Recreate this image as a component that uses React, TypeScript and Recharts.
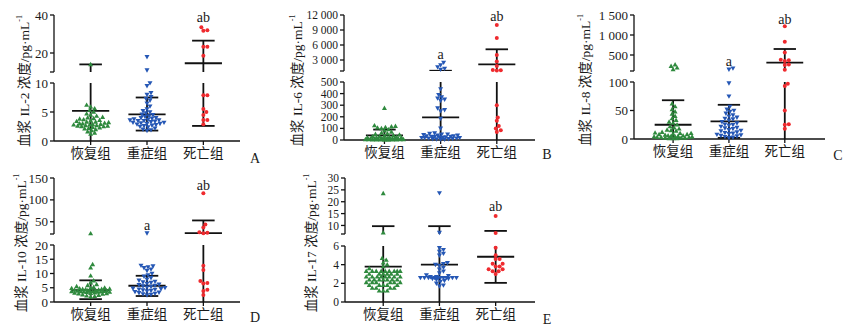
import { ScatterChart, Scatter, XAxis, YAxis, ReferenceLine } from 'recharts';

const groups = ['恢复组', '重症组', '死亡组'];

// IL-2
const il2Recover = [14, 6.2, 5.9, 5.6, 5.3, 5.0, 4.7, 4.5, 4.3, 4.1, 4.0, 3.9, 3.8, 3.7, 3.6, 3.5, 3.4, 3.3, 3.3, 3.2, 3.1, 3.0, 3.0, 2.9, 2.9, 2.8, 2.8, 2.7, 2.7, 2.6, 2.6, 2.5, 2.5, 2.4, 2.3, 2.2, 2.1, 2.0, 1.8, 1.6, 1.4, 1.2];
const il2Severe = [18, 11, 10, 9.5, 8.3, 8.0, 7.6, 7.3, 7.0, 6.5, 6.0, 5.5, 5.2, 5.0, 4.8, 4.6, 4.5, 4.3, 4.2, 4.0, 4.0, 3.9, 3.8, 3.7, 3.6, 3.6, 3.5, 3.5, 3.4, 3.3, 3.2, 3.2, 3.1, 3.0, 3.0, 2.9, 2.8, 2.7, 2.6, 2.5, 2.4, 2.2, 2.0, 1.9, 1.8];
const il2Death = [33.5, 32, 31.7, 23.3, 23.3, 18.6, 7.9, 7.9, 5.5, 5.0, 4.5, 3.6, 3.6, 2.9];
const il2Mean = [5.2, 4.6, 14.6];
const il2SdHigh = [14, 7.5, 26.5];
const il2SdLow = [0, 1.8, 2.6];

// IL-6
const il6Recover = [275, 125, 120, 115, 110, 105, 100, 90, 80, 70, 60, 55, 50, 45, 40, 35, 30, 30, 25, 25, 20, 20, 20, 15, 15, 15, 12, 12, 10, 10, 10, 8, 8, 6, 6, 5, 5, 4, 4, 3, 3, 2, 2, 2, 1, 1];
const il6Severe = [2500, 2000, 1600, 1300, 1100, 440, 390, 370, 360, 350, 340, 275, 260, 250, 185, 100, 60, 55, 50, 50, 45, 40, 40, 35, 35, 30, 30, 28, 25, 25, 22, 20, 20, 18, 15, 15, 12, 10, 10, 8, 6, 5];
const il6Death = [10000, 7400, 4000, 2700, 1800, 1000, 950, 900, 300, 195, 165, 120, 100, 85, 70];
const il6Mean = [40, 195, 2140];
const il6SdHigh = [90, 850, 5140];
const il6SdLow = [0, 0, 0];

// IL-8
const il8Recover = [260, 220, 180, 140, 62, 57, 52, 48, 44, 40, 36, 33, 30, 28, 25, 22, 20, 18, 16, 15, 14, 12, 11, 10, 10, 9, 8, 8, 7, 6, 6, 5, 5, 4, 4, 4, 3, 3, 3, 2, 2, 2, 1, 1, 1];
const il8Severe = [170, 140, 98, 75, 57, 52, 50, 48, 45, 42, 40, 38, 36, 35, 33, 30, 28, 26, 25, 24, 22, 20, 19, 18, 16, 15, 14, 12, 11, 10, 9, 8, 7, 6, 5, 4, 3, 2];
const il8Death = [1220, 830, 560, 380, 370, 350, 260, 250, 130, 97, 93, 50, 26, 25, 18];
const il8Mean = [25, 31, 310];
const il8SdHigh = [68, 60, 650];
const il8SdLow = [0, 2, 0];

// IL-10
const il10Recover = [23, 13.2, 12.0, 9.2, 7.5, 6.8, 6.2, 5.8, 5.5, 5.2, 5.0, 4.9, 4.8, 4.7, 4.6, 4.5, 4.5, 4.4, 4.3, 4.2, 4.1, 4.0, 4.0, 3.9, 3.9, 3.8, 3.8, 3.7, 3.7, 3.6, 3.6, 3.5, 3.5, 3.4, 3.3, 3.2, 3.1, 3.0, 2.9, 2.8, 2.6, 2.4, 2.2, 2.0, 1.8];
const il10Severe = [24, 12.8, 12.6, 12.3, 12.0, 11.5, 11.0, 10.0, 9.5, 9.0, 8.5, 8.0, 7.6, 7.2, 7.0, 6.8, 6.5, 6.2, 6.0, 5.8, 5.6, 5.4, 5.2, 5.0, 4.8, 4.6, 4.5, 4.4, 4.2, 4.0, 3.8, 3.6, 3.4, 3.2, 3.0, 2.8, 2.6, 2.4];
const il10Death = [115, 44, 37, 26, 25, 24, 12.7, 11.2, 7.4, 6.7, 6.5, 4.3, 3.9, 2.5];
const il10Mean = [4.2, 5.7, 24];
const il10SdHigh = [7.6, 9.2, 53];
const il10SdLow = [1.0, 2.1, 0];

// IL-17
const il17Recover = [23.5, 7.0, 4.7, 4.5, 4.2, 4.0, 3.8, 3.6, 3.3, 3.3, 3.3, 3.3, 3.3, 3.3, 3.3, 3.3, 3.3, 3.0, 3.0, 3.0, 3.0, 3.0, 3.0, 2.7, 2.7, 2.7, 2.7, 2.7, 2.7, 2.7, 2.7, 2.4, 2.4, 2.4, 2.4, 2.4, 2.4, 2.4, 2.1, 2.1, 2.1, 2.1, 2.1, 2.1, 1.8, 1.8, 1.8, 1.8, 1.8, 1.5, 1.5, 1.5, 1.5, 1.2, 1.2, 1.2];
const il17Severe = [23.7, 7.0, 5.8, 5.6, 5.4, 5.2, 5.0, 4.2, 4.1, 4.0, 3.9, 3.7, 3.5, 3.3, 3.1, 2.9, 2.8, 2.7, 2.7, 2.6, 2.6, 2.6, 2.6, 2.6, 2.6, 2.6, 2.6, 2.6, 2.6, 2.5, 2.5, 2.4, 2.3, 2.2, 2.0, 1.8, 1.7];
const il17Death = [14, 6.8, 5.8, 5.0, 4.6, 4.6, 4.1, 4.1, 3.8, 3.8, 3.5, 3.5, 3.3, 3.3, 3.0];
const il17Mean = [3.8, 4.0, 4.85];
const il17SdHigh = [9.7, 9.7, 7.7];
const il17SdLow = [0, 0, 2.05];

const colors = {
  recover: '#2f8a3e',
  severe: '#2557b5',
  death: '#ef2a2e',
  bar: '#111',
  text: '#1a1a1a',
};

const serif = "'Liberation Serif', 'Times New Roman', serif";
const cjk = "'Liberation Serif', 'Noto Sans CJK SC', serif";

type Box = { left: number; right: number; top: [number, number]; bottom: [number, number] };
type Note = { g: number; y: number; label: string };

interface Panel {
  name: string;
  letter: string;
  values: number[][];
  mean: number[];
  sdHigh: number[];
  sdLow: number[];
  topDomain: [number, number];
  topTicks: number[];
  botDomain: [number, number];
  botTicks: number[];
  xDomain: [number, number];
  notes: Note[];
  box: Box;
  titleX: number;
  letterPos: [number, number];
  tickFont: number;
}

const panels: Panel[] = [
  {
    name: 'IL-2', letter: 'A',
    values: [il2Recover, il2Severe, il2Death], mean: il2Mean, sdHigh: il2SdHigh, sdLow: il2SdLow,
    topDomain: [10, 40], topTicks: [10, 20, 40], botDomain: [0, 10], botTicks: [0, 5, 10],
    xDomain: [0.35, 3.65], notes: [{ g: 3, y: 38.9, label: 'ab' }],
    box: { left: 54, right: 240, top: [15, 72], bottom: [83, 141] }, titleX: 24, letterPos: [255, 158], tickFont: 13,
  },
  {
    name: 'IL-6', letter: 'B',
    values: [il6Recover, il6Severe, il6Death], mean: il6Mean, sdHigh: il6SdHigh, sdLow: il6SdLow,
    topDomain: [800, 12000], topTicks: [800, 3000, 6000, 9000, 12000], botDomain: [0, 500], botTicks: [0, 100, 200, 300, 400, 500],
    xDomain: [0.28, 3.68], notes: [{ g: 2, y: 4140, label: 'a' }, { g: 3, y: 11660, label: 'ab' }],
    box: { left: 344, right: 535, top: [15, 71], bottom: [82, 140] }, titleX: 297, letterPos: [547, 154], tickFont: 11.5,
  },
  {
    name: 'IL-8', letter: 'C',
    values: [il8Recover, il8Severe, il8Death], mean: il8Mean, sdHigh: il8SdHigh, sdLow: il8SdLow,
    topDomain: [100, 1500], topTicks: [100, 500, 1000, 1500], botDomain: [0, 100], botTicks: [0, 50, 100],
    xDomain: [0.3, 3.72], notes: [{ g: 2, y: 350, label: 'a' }, { g: 3, y: 1393, label: 'ab' }],
    box: { left: 634, right: 825, top: [15, 71], bottom: [82, 139] }, titleX: 585, letterPos: [838, 155], tickFont: 13,
  },
  {
    name: 'IL-10', letter: 'D',
    values: [il10Recover, il10Severe, il10Death], mean: il10Mean, sdHigh: il10SdHigh, sdLow: il10SdLow,
    topDomain: [22, 150], topTicks: [22, 50, 100, 150], botDomain: [0, 20], botTicks: [0, 5, 10, 15, 20],
    xDomain: [0.35, 3.65], notes: [{ g: 2, y: 40.3, label: 'a' }, { g: 3, y: 134, label: 'ab' }],
    box: { left: 54, right: 240, top: [178, 234], bottom: [245, 302] }, titleX: 21, letterPos: [255, 317], tickFont: 13,
  },
  {
    name: 'IL-17', letter: 'E',
    values: [il17Recover, il17Severe, il17Death], mean: il17Mean, sdHigh: il17SdHigh, sdLow: il17SdLow,
    topDomain: [6.4, 30], topTicks: [6.4, 10, 15, 20, 25, 30], botDomain: [0, 6], botTicks: [0, 2, 4, 6],
    xDomain: [0.32, 3.7], notes: [{ g: 3, y: 18.2, label: 'ab' }],
    box: { left: 345, right: 535, top: [178, 234], bottom: [246, 302] }, titleX: 311, letterPos: [547, 319], tickFont: 11.5,
  },
];

const YW = 46;
const MT = 8;
const MB = 2;
const MR = 10;
const XH = 28;
const DOT = 3.6;
const SPREAD = 19;

// simple beeswarm: spread points sideways (in pixels), packed within +-SPREAD px
function swarm(values: number[], g: number, dom: [number, number], plotH: number, pxPerX: number) {
  const k = plotH / (dom[1] - dom[0]);
  const pts = values.map((v) => ({ v, py: (v - dom[0]) * k })).sort((a, b) => a.py - b.py);
  const placed: { px: number; py: number }[] = [];
  const cands: number[] = [0];
  for (let o = 1; o <= SPREAD; o += 1) cands.push(o, -o);
  return pts.map((p) => {
    let off = 0;
    let bestGap = -1;
    for (const o of cands) {
      let gap = Infinity;
      for (const q of placed) {
        const d = Math.hypot(q.px - o, q.py - p.py);
        if (d < gap) gap = d;
      }
      if (gap >= DOT) {
        off = o;
        bestGap = gap;
        break;
      }
      if (gap > bestGap + 0.3) {
        bestGap = gap;
        off = o;
      }
    }
    placed.push({ px: off, py: p.py });
    return { x: g + off / pxPerX, y: p.v };
  });
}

function fmt(v: number) {
  if (v >= 1000) return `${Math.floor(v / 1000)} ${String(v % 1000).padStart(3, '0')}`;
  return String(v);
}

const TriUp = (p: any) => (
  <path d={`M${p.cx},${p.cy - 2.6}L${p.cx - 2.5},${p.cy + 1.8}L${p.cx + 2.5},${p.cy + 1.8}Z`} fill={colors.recover} />
);
const TriDown = (p: any) => (
  <path d={`M${p.cx},${p.cy + 2.6}L${p.cx - 2.5},${p.cy - 1.8}L${p.cx + 2.5},${p.cy - 1.8}Z`} fill={colors.severe} />
);
const Dot = (p: any) => <circle cx={p.cx} cy={p.cy} r={2} fill={colors.death} />;
const NoteText = (p: any) => (
  <text x={p.cx} y={p.cy} textAnchor="middle" dominantBaseline="central" fontSize={14} fontFamily={serif} fill={colors.text}>
    {p.payload.label}
  </text>
);

const shapes = [TriUp, TriDown, Dot];

function Segment({ p, part }: { p: Panel; part: 'top' | 'bottom' }) {
  const isTop = part === 'top';
  const [segTop, segBot] = isTop ? p.box.top : p.box.bottom;
  const dom = isTop ? p.topDomain : p.botDomain;
  const ticks = isTop ? p.topTicks : p.botTicks;
  const plotW = p.box.right - p.box.left;
  const plotH = segBot - segTop;
  const width = YW + plotW + MR;
  const height = MT + plotH + MB + (isTop ? 0 : XH);
  const pxPerX = plotW / (p.xDomain[1] - p.xDomain[0]);
  const inSeg = (v: number) => (isTop ? v > dom[0] : v <= dom[1]);
  const notes = isTop ? p.notes : [];

  const lines: { a: [number, number]; b: [number, number] }[] = [];
  [1, 2, 3].forEach((g, i) => {
    lines.push({ a: [g - 0.33, p.mean[i]], b: [g + 0.33, p.mean[i]] });
    lines.push({ a: [g, p.sdLow[i]], b: [g, p.sdHigh[i]] });
    lines.push({ a: [g - 0.2, p.sdHigh[i]], b: [g + 0.2, p.sdHigh[i]] });
    if (p.sdLow[i] > 0) lines.push({ a: [g - 0.2, p.sdLow[i]], b: [g + 0.2, p.sdLow[i]] });
  });

  return (
    <div style={{ position: 'absolute', left: p.box.left - YW, top: segTop - MT }}>
      <ScatterChart width={width} height={height} margin={{ top: MT, right: MR, bottom: MB, left: 0 }}>
        {isTop ? (
          <XAxis type="number" dataKey="x" domain={p.xDomain} hide />
        ) : (
          <XAxis
            type="number"
            dataKey="x"
            domain={p.xDomain}
            ticks={[1, 2, 3]}
            interval={0}
            tickFormatter={(v) => groups[v - 1]}
            tick={{ fontSize: 13.5, fill: colors.text, fontFamily: cjk }}
            tickSize={4}
            tickMargin={3}
            height={XH}
            stroke={colors.bar}
            strokeWidth={1.3}
          />
        )}
        <YAxis
          type="number"
          dataKey="y"
          domain={dom}
          ticks={ticks}
          interval={0}
          tickFormatter={(v) => (isTop && v === dom[0] ? '' : fmt(v))}
          width={YW}
          tickSize={4}
          tickMargin={2}
          stroke={colors.bar}
          strokeWidth={1.3}
          tick={{ fontSize: p.tickFont, fill: colors.text, fontFamily: serif }}
        />
        {p.values.map((vals, i) => (
          <Scatter
            key={i}
            data={swarm(vals.filter(inSeg), i + 1, dom, plotH, pxPerX)}
            shape={shapes[i]}
            isAnimationActive={false}
          />
        ))}
        {lines.map((l, j) => (
          <ReferenceLine
            key={j}
            segment={[{ x: l.a[0], y: l.a[1] }, { x: l.b[0], y: l.b[1] }]}
            stroke={colors.bar}
            strokeWidth={1.8}
            ifOverflow="hidden"
          />
        ))}
        {notes.length > 0 && (
          <Scatter data={notes.map((n) => ({ x: n.g, y: n.y, label: n.label }))} shape={NoteText} isAnimationActive={false} />
        )}
      </ScatterChart>
    </div>
  );
}

export default function App() {
  return (
    <div style={{ position: 'absolute', left: 0, top: 0, width: 849, height: 330, background: '#fff', overflow: 'hidden' }}>
      <svg width={849} height={330} style={{ position: 'absolute', left: 0, top: 0 }}>
        {panels.map((p) => {
          const cy = (p.box.top[0] + p.box.bottom[1]) / 2 + 3;
          return (
            <g key={p.name}>
              <text
                transform={`translate(${p.titleX},${cy}) rotate(-90)`}
                textAnchor="middle"
                dominantBaseline="central"
                fontSize={13.5}
                fontFamily={cjk}
                fill={colors.text}
              >
                血浆 {p.name} 浓度/pg·mL
                <tspan dy={-5} fontSize={8}>-1</tspan>
              </text>
              <text
                x={p.letterPos[0]}
                y={p.letterPos[1]}
                textAnchor="middle"
                dominantBaseline="central"
                fontSize={14}
                fontFamily={serif}
                fill={colors.text}
              >
                {p.letter}
              </text>
            </g>
          );
        })}
      </svg>
      {panels.map((p) => (
        <div key={p.name}>
          <Segment p={p} part="top" />
          <Segment p={p} part="bottom" />
        </div>
      ))}
    </div>
  );
}
